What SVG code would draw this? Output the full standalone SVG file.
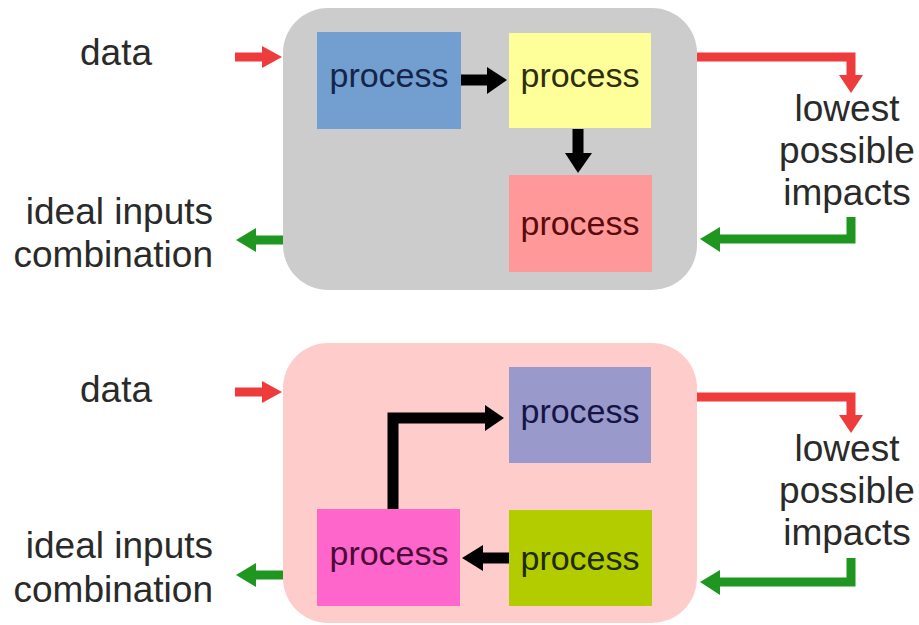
<svg xmlns="http://www.w3.org/2000/svg" width="919" height="625" viewBox="0 0 919 625">
<style>
text{font-family:"Liberation Sans",Arial,sans-serif;}
.lbl{font-size:37px;fill:#2a2a2a;}
.proc{font-size:34px;text-anchor:middle;}
.red{fill:#ee3b3b;}
.redl{stroke:#ee3b3b;stroke-width:9;fill:none;}
.grn{fill:#1f961f;}
.grnl{stroke:#1f961f;stroke-width:9;fill:none;}
.blk{fill:#000;}
.blkl{stroke:#000;stroke-width:11;fill:none;}
</style>
<rect width="919" height="625" fill="#fff"/>
<g id="panel-top"><rect x="283" y="8" width="414" height="282" rx="45" fill="#cccccc"/></g>
<g id="panel-bottom"><rect x="283" y="343" width="414" height="280" rx="45" fill="#ffcccc"/></g>

<g id="top-blue"><rect x="317" y="32" width="144" height="97" fill="#729fcf"/><text class="proc" x="389" y="87" fill="#15254a">process</text></g>
<g id="top-yellow"><rect x="509" y="33" width="142" height="95" fill="#ffff99"/><text class="proc" x="580" y="87" fill="#2e2e0a">process</text></g>
<g id="top-red"><rect x="509" y="175" width="143" height="97" fill="#ff9999"/><text class="proc" x="580" y="235" fill="#5a0a0a">process</text></g>

<g id="bot-lavender"><rect x="509" y="367" width="142" height="96" fill="#9999cc"/><text class="proc" x="580" y="423" fill="#151545">process</text></g>
<g id="bot-magenta"><rect x="317" y="509" width="143" height="97" fill="#ff66cc"/><text class="proc" x="389" y="565" fill="#4a0a35">process</text></g>
<g id="bot-lime"><rect x="509" y="510" width="143" height="96" fill="#b3cc00"/><text class="proc" x="580" y="570" fill="#1e2a00">process</text></g>

<g id="labels">
<text class="lbl" x="116" y="65" text-anchor="middle">data</text>
<text class="lbl" x="213" y="224" text-anchor="end">ideal inputs</text>
<text class="lbl" x="213" y="267" text-anchor="end">combination</text>
<text class="lbl" x="847" y="121" text-anchor="middle">lowest</text>
<text class="lbl" x="847" y="163" text-anchor="middle">possible</text>
<text class="lbl" x="847" y="205" text-anchor="middle">impacts</text>
<text class="lbl" x="116" y="402" text-anchor="middle">data</text>
<text class="lbl" x="213" y="558" text-anchor="end">ideal inputs</text>
<text class="lbl" x="213" y="602" text-anchor="end">combination</text>
<text class="lbl" x="847" y="461" text-anchor="middle">lowest</text>
<text class="lbl" x="847" y="503" text-anchor="middle">possible</text>
<text class="lbl" x="847" y="545" text-anchor="middle">impacts</text>
</g>

<g id="connectors">
<!-- top -->
<line class="redl" x1="235" y1="57" x2="263" y2="57"/>
<polygon class="red" points="262,46 282,57 262,68"/>
<line class="grnl" x1="283" y1="240" x2="254" y2="240"/>
<polygon class="grn" points="256,228 236,240 256,252"/>
<polyline class="redl" points="697,57 851,57 851,76"/>
<polygon class="red" points="839,75 863,75 851,93"/>
<polyline class="grnl" points="851,217 851,239 719,239"/>
<polygon class="grn" points="720,227 700,239 720,252"/>
<line class="blkl" x1="461" y1="80" x2="488" y2="80"/>
<polygon class="blk" points="487,67 507,80 487,94"/>
<line class="blkl" x1="578" y1="129" x2="578" y2="154"/>
<polygon class="blk" points="565,153 592,153 578,173"/>
<!-- bottom -->
<line class="redl" x1="235" y1="392" x2="263" y2="392"/>
<polygon class="red" points="262,381 282,392 262,403"/>
<line class="grnl" x1="283" y1="575" x2="254" y2="575"/>
<polygon class="grn" points="256,563 236,575 256,587"/>
<polyline class="redl" points="697,397 851,397 851,416"/>
<polygon class="red" points="839,415 863,415 851,433"/>
<polyline class="grnl" points="851,558 851,582 719,582"/>
<polygon class="grn" points="720,570 700,582 720,595"/>
<polyline class="blkl" points="393,509 393,418 486,418"/>
<polygon class="blk" points="485,405 504,418 485,431"/>
<line class="blkl" x1="509" y1="558" x2="482" y2="558"/>
<polygon class="blk" points="483,545 462,558 483,571"/>
</g>
</svg>
